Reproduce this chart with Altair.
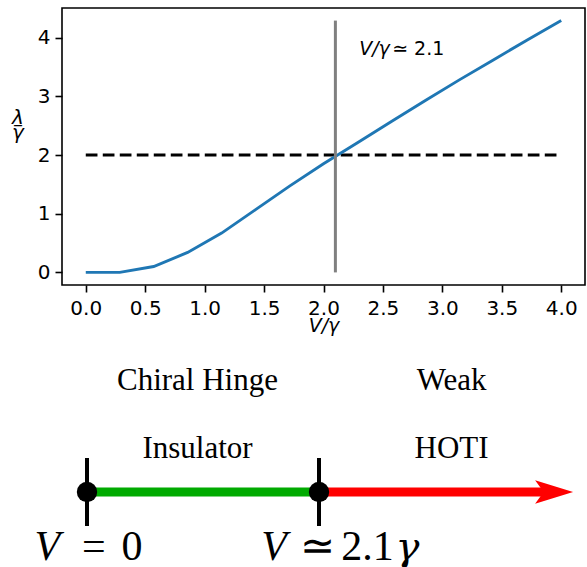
import altair as alt
import pandas as pd

# ---------------- top panel data ----------------
v_over_gamma = [0.0, 0.2857, 0.5714, 0.8571, 1.1429, 1.4286, 1.7143, 2.0,
                2.2857, 2.5714, 2.8571, 3.1429, 3.4286, 3.7143, 4.0]
lambda_over_gamma = [0.0, 0.0, 0.10, 0.34, 0.67, 1.07, 1.47, 1.85,
                     2.21, 2.57, 2.93, 3.28, 3.62, 3.96, 4.29]
x_ticks = [0.0, 0.5, 1.0, 1.5, 2.0, 2.5, 3.0, 3.5, 4.0]
y_ticks = [0, 1, 2, 3, 4]
critical_v = 2.1
reference_level = 2.0
reference_span = [0.0, 4.0]
annotation_x = 2.3
annotation_y = 3.7
annotation_italic = "V/γ"
annotation_rest = "≃ 2.1"

# ---------------- bottom phase diagram data ----------------
phase_points = [0.0, 2.1]
segment_start = [0.0, 2.1]
segment_end = [2.1, 4.2]
segment_color = ["#00aa00", "#ff0000"]
arrow_tip = 4.4
phase_name_line1 = ["Chiral Hinge", "Weak"]
phase_name_line2 = ["Insulator", "HOTI"]
phase_name_x = [1.0, 3.3]
math_pieces = ["V", "=", "0", "V", "≃", "2.1"]
math_x = [-0.358, 0.063, 0.407, 1.693, 2.082, 2.539]
math_italic = [True, False, False, True, False, False]
greek_piece = ["γ"]
greek_x = [2.901]

# levels (vertical rows) of the phase diagram
LINE_LEVEL, TICK_LOW, TICK_HIGH = 0, -1, 1
NAME1_LEVEL, NAME2_LEVEL, MATH_LEVEL = 3, 1, -2

W, H = 523, 277

# ---------------- top panel ----------------
curve = pd.DataFrame({"V": v_over_gamma, "lam": lambda_over_gamma})
xs = alt.Scale(domain=[-0.2, 4.2], nice=False, zero=False)
ymax = max(lambda_over_gamma)
ys = alt.Scale(domain=[-0.05 * ymax, 1.05 * ymax], nice=False, zero=False)

x_axis = alt.Axis(values=x_ticks, format=".1f", grid=False, domain=False,
                  tickSize=7, tickWidth=1.6, tickColor="black",
                  labelFont="DejaVu Sans", labelFontSize=20, labelColor="black",
                  labelPadding=6, labelFlush=False,
                  title="V/γ", titleFont="DejaVu Sans", titleFontSize=19,
                  titleFontStyle="italic", titleFontWeight="normal", titleColor="black",
                  titleY=46, titleBaseline="alphabetic")
y_axis = alt.Axis(values=y_ticks, format="d", grid=False, domain=False,
                  tickSize=7, tickWidth=1.6, tickColor="black",
                  labelFont="DejaVu Sans", labelFontSize=20, labelColor="black",
                  labelPadding=5, labelFlush=False,
                  title=["λ", "–", "γ"], titleFont="DejaVu Sans", titleFontSize=20,
                  titleFontStyle="italic", titleFontWeight="normal", titleColor="black",
                  titleAngle=0, titleAlign="center", titleBaseline="alphabetic",
                  titleX=-44.5, titleY=115, titleLineHeight=7.5)

line = alt.Chart(curve).mark_line(color="#1f77b4", strokeWidth=2.9).encode(
    x=alt.X("V:Q", scale=xs, axis=x_axis),
    y=alt.Y("lam:Q", scale=ys, axis=y_axis),
)

ref_df = pd.DataFrame({"x0": [reference_span[0]], "x1": [reference_span[1]],
                       "y": [reference_level]})
ref_rule = alt.Chart(ref_df).mark_rule(color="black", strokeWidth=3,
                                       strokeDash=[11.7, 5.3]).encode(
    x=alt.X("x0:Q", scale=xs), x2="x1:Q", y=alt.Y("y:Q", scale=ys))

crit_df = pd.DataFrame({"x": [critical_v], "y0": [0.0], "y1": [ymax]})
crit_rule = alt.Chart(crit_df).mark_rule(color="gray", strokeWidth=3).encode(
    x=alt.X("x:Q", scale=xs), y=alt.Y("y0:Q", scale=ys), y2="y1:Q")

ann1 = alt.Chart(pd.DataFrame({"x": [annotation_x], "y": [annotation_y],
                               "t": [annotation_italic]})).mark_text(
    font="DejaVu Sans", fontSize=19, fontStyle="italic", align="left",
    baseline="alphabetic", color="black").encode(
    x=alt.X("x:Q", scale=xs), y=alt.Y("y:Q", scale=ys), text="t:N")
ann2 = alt.Chart(pd.DataFrame({"x": [annotation_x], "y": [annotation_y],
                               "t": [annotation_rest]})).mark_text(
    font="DejaVu Sans", fontSize=19, align="left", dx=33,
    baseline="alphabetic", color="black").encode(
    x=alt.X("x:Q", scale=xs), y=alt.Y("y:Q", scale=ys), text="t:N")

top = alt.layer(ref_rule, line, crit_rule, ann1, ann2)

# ---------------- bottom phase diagram ----------------
bx = alt.Scale(domain=[phase_points[0], phase_points[1]], range=[25, 257],
               nice=False, zero=False)
by = alt.Scale(domain=[MATH_LEVEL, NAME1_LEVEL], range=[552, 382],
               nice=False, zero=False)

seg_df = pd.DataFrame({"s": segment_start, "e": segment_end, "c": segment_color,
                       "y": [LINE_LEVEL] * 2})
segments = alt.Chart(seg_df).mark_rule(strokeWidth=9, clip=False).encode(
    x=alt.X("s:Q", scale=bx, axis=None), x2="e:Q",
    y=alt.Y("y:Q", scale=by, axis=None),
    color=alt.Color("c:N", scale=None))

head_df = pd.DataFrame({"x": [arrow_tip], "y": [LINE_LEVEL]})
head = alt.Chart(head_df).mark_point(
    shape="M 0 0 L -2 -0.62 L -1.55 0 L -2 0.62 Z", size=1444, filled=True,
    color="#ff0000", opacity=1, strokeWidth=0, clip=False).encode(
    x=alt.X("x:Q", scale=bx, axis=None), y=alt.Y("y:Q", scale=by, axis=None))

tick_df = pd.DataFrame({"x": phase_points, "lo": [TICK_LOW] * 2, "hi": [TICK_HIGH] * 2})
ticks = alt.Chart(tick_df).mark_rule(color="black", strokeWidth=4, clip=False).encode(
    x=alt.X("x:Q", scale=bx, axis=None), y=alt.Y("lo:Q", scale=by, axis=None), y2="hi:Q")

dot_df = pd.DataFrame({"x": phase_points, "y": [LINE_LEVEL] * 2})
dots = alt.Chart(dot_df).mark_circle(color="black", size=415, opacity=1, clip=False).encode(
    x=alt.X("x:Q", scale=bx, axis=None), y=alt.Y("y:Q", scale=by, axis=None))

names_df = pd.DataFrame({
    "x": phase_name_x + phase_name_x,
    "y": [NAME1_LEVEL] * 2 + [NAME2_LEVEL] * 2,
    "t": phase_name_line1 + phase_name_line2,
})
names = alt.Chart(names_df).mark_text(
    font="Liberation Serif", fontSize=31, align="center", baseline="alphabetic",
    color="black", clip=False).encode(
    x=alt.X("x:Q", scale=bx, axis=None), y=alt.Y("y:Q", scale=by, axis=None), text="t:N")

math_df = pd.DataFrame({"x": math_x, "t": math_pieces, "it": math_italic,
                        "y": [MATH_LEVEL] * len(math_pieces)})
math_it = alt.Chart(math_df[math_df.it]).mark_text(
    font="Liberation Serif", fontSize=42, fontStyle="italic", align="center",
    baseline="alphabetic", color="black", clip=False).encode(
    x=alt.X("x:Q", scale=bx, axis=None), y=alt.Y("y:Q", scale=by, axis=None), text="t:N")
math_up = alt.Chart(math_df[~math_df.it]).mark_text(
    font="Liberation Serif", fontSize=42, align="center",
    baseline="alphabetic", color="black", clip=False).encode(
    x=alt.X("x:Q", scale=bx, axis=None), y=alt.Y("y:Q", scale=by, axis=None), text="t:N")
greek_df = pd.DataFrame({"x": greek_x, "t": greek_piece, "y": [MATH_LEVEL]})
math_greek = alt.Chart(greek_df).mark_text(
    font="DejaVu Serif", fontSize=40, fontStyle="italic", align="center",
    baseline="alphabetic", color="black", clip=False).encode(
    x=alt.X("x:Q", scale=bx, axis=None), y=alt.Y("y:Q", scale=by, axis=None), text="t:N")

bottom = alt.layer(segments, head, ticks, dots, names, math_it, math_up, math_greek)

chart = alt.layer(top, bottom).resolve_scale(x="independent", y="independent").properties(
    width=W, height=H,
    padding={"left": 62, "top": 8, "right": 2, "bottom": 282},
    autosize=alt.AutoSizeParams(type="none"),
    background="white",
).configure_view(stroke="black", strokeWidth=1.6)

chart.save("out.html", embed_options={"renderer": "svg", "actions": False})
